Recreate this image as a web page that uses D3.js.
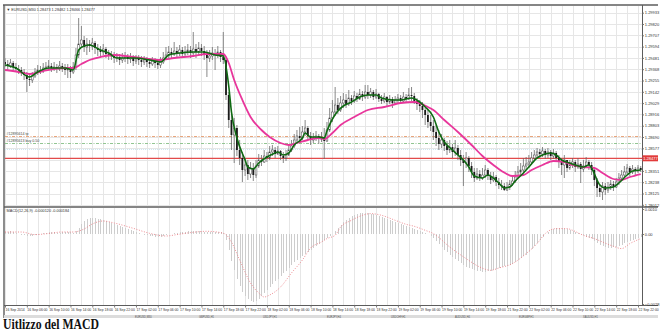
<!DOCTYPE html>
<html>
<head>
<meta charset="utf-8">
<script src="https://d3js.org/d3.v7.min.js"></script>
<style>
body { margin: 0; background: #fff; }
svg text { font-family: "Liberation Sans", Arial, sans-serif; }
</style>
</head>
<body>
<svg id="chart" width="660" height="331"></svg>
<script>
// EURUSD M30 bars, 16 Sep 02:00 .. 22 Sep 22:30
let firstOpen = 1.2944;
let closes = [
1.2942,1.2940,1.2943,1.2939,1.2937,1.2936,1.2934,1.2931,1.2927,1.2926,
1.2930,1.2934,1.2936,1.2935,1.2938,1.2939,1.2940,1.2938,1.2939,1.2937,
1.2940,1.2938,1.2936,1.2937,1.2934,1.2939,1.2951,1.2962,1.2966,1.2959,
1.2962,1.2960,1.2963,1.2958,1.2956,1.2954,1.2957,1.2952,1.2950,1.2951,
1.2948,1.2949,1.2946,1.2948,1.2949,1.2947,1.2948,1.2945,1.2947,1.2946,
1.2944,1.2946,1.2944,1.2942,1.2945,1.2943,1.2941,1.2944,1.2948,1.2951,
1.2954,1.2952,1.2955,1.2953,1.2956,1.2952,1.2954,1.2956,1.2953,1.2957,
1.2954,1.2958,1.2955,1.2952,1.2948,1.2950,1.2953,1.2951,1.2954,1.2949,
1.2946,1.2911,1.2886,1.2871,1.2878,1.2856,1.2848,1.2836,1.2841,1.2832,
1.2838,1.2831,1.2840,1.2846,1.2844,1.2850,1.2848,1.2854,1.2856,1.2852,
1.2855,1.2850,1.2848,1.2851,1.2856,1.2860,1.2866,1.2870,1.2868,1.2874,
1.2878,1.2870,1.2866,1.2868,1.2870,1.2867,1.2869,1.2865,1.2876,1.2888,
1.2894,1.2901,1.2896,1.2903,1.2906,1.2902,1.2908,1.2905,1.2910,1.2907,
1.2912,1.2909,1.2914,1.2911,1.2914,1.2909,1.2912,1.2907,1.2905,1.2909,
1.2904,1.2907,1.2903,1.2906,1.2908,1.2905,1.2909,1.2907,1.2911,1.2910,
1.2905,1.2902,1.2900,1.2896,1.2891,1.2884,1.2880,1.2874,1.2868,1.2862,
1.2866,1.2860,1.2856,1.2859,1.2854,1.2858,1.2851,1.2846,1.2843,1.2848,
1.2840,1.2834,1.2828,1.2832,1.2828,1.2831,1.2836,1.2830,1.2826,1.2829,
1.2824,1.2821,1.2820,1.2816,1.2819,1.2822,1.2825,1.2829,1.2834,1.2836,
1.2840,1.2842,1.2844,1.2848,1.2851,1.2854,1.2852,1.2855,1.2851,1.2854,
1.2850,1.2853,1.2848,1.2844,1.2841,1.2846,1.2838,1.2841,1.2844,1.2839,
1.2842,1.2837,1.2840,1.2844,1.2841,1.2836,1.2826,1.2818,1.2814,1.2820,
1.2816,1.2819,1.2822,1.2819,1.2824,1.2828,1.2831,1.2834,1.2838,1.2834,
1.2837,1.2835,1.2838,1.2836];
let highs = [
1.2948,1.2946,1.2947,1.2945,1.2943,1.2941,1.2939,1.2937,1.2934,1.2932,
1.2934,1.2938,1.2941,1.2940,1.2943,1.2944,1.2946,1.2943,1.2944,1.2942,
1.2945,1.2943,1.2942,1.2942,1.2940,1.2944,1.2958,1.2988,1.2980,1.2970,
1.2968,1.2966,1.2968,1.2965,1.2962,1.2960,1.2962,1.2959,1.2956,1.2955,
1.2954,1.2953,1.2952,1.2953,1.2954,1.2952,1.2953,1.2951,1.2951,1.2951,
1.2950,1.2950,1.2949,1.2948,1.2949,1.2948,1.2947,1.2949,1.2954,1.2959,
1.2960,1.2958,1.2964,1.2959,1.2961,1.2959,1.2960,1.2962,1.2960,1.2974,
1.2962,1.2964,1.2962,1.2960,1.2956,1.2956,1.2959,1.2957,1.2960,1.2956,
1.2974,1.2948,1.2914,1.2891,1.2888,1.2881,1.2866,1.2854,1.2848,1.2846,
1.2844,1.2843,1.2846,1.2852,1.2851,1.2856,1.2854,1.2860,1.2861,1.2859,
1.2860,1.2856,1.2854,1.2856,1.2861,1.2866,1.2872,1.2876,1.2879,1.2880,
1.2886,1.2880,1.2874,1.2873,1.2875,1.2872,1.2874,1.2878,1.2884,1.2898,
1.2906,1.2919,1.2908,1.2910,1.2913,1.2912,1.2916,1.2911,1.2915,1.2913,
1.2917,1.2915,1.2921,1.2921,1.2918,1.2916,1.2917,1.2913,1.2911,1.2913,
1.2910,1.2911,1.2909,1.2910,1.2912,1.2911,1.2914,1.2912,1.2918,1.2919,
1.2913,1.2908,1.2906,1.2904,1.2898,1.2896,1.2891,1.2886,1.2881,1.2876,
1.2872,1.2868,1.2865,1.2866,1.2862,1.2866,1.2861,1.2856,1.2851,1.2854,
1.2850,1.2844,1.2838,1.2838,1.2836,1.2838,1.2841,1.2838,1.2834,1.2834,
1.2831,1.2828,1.2826,1.2823,1.2824,1.2826,1.2830,1.2835,1.2840,1.2843,
1.2848,1.2849,1.2851,1.2854,1.2856,1.2858,1.2857,1.2859,1.2857,1.2858,
1.2856,1.2857,1.2855,1.2851,1.2848,1.2851,1.2846,1.2846,1.2848,1.2846,
1.2848,1.2844,1.2846,1.2849,1.2846,1.2844,1.2838,1.2828,1.2822,1.2824,
1.2823,1.2824,1.2826,1.2825,1.2828,1.2833,1.2836,1.2840,1.2842,1.2840,
1.2841,1.2839,1.2841,1.2840];
let lows = [
1.2939,1.2936,1.2938,1.2936,1.2934,1.2932,1.2930,1.2926,1.2914,1.2920,
1.2923,1.2928,1.2931,1.2932,1.2933,1.2935,1.2936,1.2934,1.2935,1.2933,
1.2935,1.2934,1.2931,1.2928,1.2928,1.2932,1.2936,1.2948,1.2958,1.2954,
1.2951,1.2954,1.2956,1.2952,1.2950,1.2949,1.2951,1.2948,1.2946,1.2946,
1.2943,1.2944,1.2941,1.2943,1.2944,1.2942,1.2943,1.2940,1.2942,1.2941,
1.2939,1.2941,1.2939,1.2938,1.2940,1.2938,1.2937,1.2938,1.2942,1.2946,
1.2948,1.2948,1.2950,1.2949,1.2950,1.2948,1.2949,1.2951,1.2948,1.2949,
1.2948,1.2951,1.2950,1.2946,1.2929,1.2944,1.2946,1.2936,1.2948,1.2944,
1.2942,1.2906,1.2878,1.2856,1.2843,1.2850,1.2841,1.2824,1.2830,1.2826,
1.2828,1.2825,1.2828,1.2838,1.2840,1.2843,1.2844,1.2846,1.2850,1.2848,
1.2851,1.2846,1.2843,1.2845,1.2850,1.2854,1.2858,1.2864,1.2863,1.2866,
1.2870,1.2866,1.2861,1.2863,1.2865,1.2862,1.2864,1.2847,1.2864,1.2874,
1.2884,1.2890,1.2892,1.2894,1.2898,1.2898,1.2900,1.2901,1.2903,1.2904,
1.2906,1.2905,1.2907,1.2907,1.2908,1.2906,1.2907,1.2904,1.2902,1.2903,
1.2900,1.2902,1.2898,1.2901,1.2903,1.2902,1.2904,1.2903,1.2906,1.2905,
1.2902,1.2896,1.2894,1.2888,1.2881,1.2878,1.2875,1.2866,1.2860,1.2856,
1.2858,1.2855,1.2851,1.2853,1.2848,1.2850,1.2846,1.2840,1.2820,1.2838,
1.2834,1.2828,1.2824,1.2826,1.2825,1.2826,1.2828,1.2826,1.2822,1.2824,
1.2820,1.2817,1.2816,1.2815,1.2815,1.2816,1.2820,1.2823,1.2828,1.2831,
1.2834,1.2836,1.2838,1.2841,1.2846,1.2848,1.2848,1.2849,1.2847,1.2848,
1.2846,1.2847,1.2844,1.2838,1.2831,1.2828,1.2834,1.2836,1.2838,1.2834,
1.2837,1.2823,1.2834,1.2838,1.2836,1.2831,1.2820,1.2809,1.2809,1.2806,
1.2811,1.2813,1.2816,1.2815,1.2818,1.2821,1.2826,1.2829,1.2832,1.2830,
1.2832,1.2831,1.2833,1.2834];

// moving averages read at chosen bars
let fastIdx = [0,4,9,12,16,22,25,27,29,31,35,38,41,47,53,57,60,64,69,73,77,80,82,83,85,88,89,91,93,96,99,100,102,104,106,109,110,112,115,117,118,120,122,124,127,130,133,136,138,142,145,149,152,154,157,159,161,164,166,168,170,172,175,177,179,181,183,185,187,190,192,195,197,200,202,204,207,209,212,214,215,217,218,220,223,225,228,230,233];
let fastMa = [1.2941,1.2938,1.2929,1.2934,1.2938,1.2938,1.2936,1.2956,1.2960,1.2961,1.2956,1.2953,1.2948,1.2948,1.2946,1.2944,1.2951,1.2953,1.2954,1.2954,1.2951,1.2950,1.2920,1.2894,1.2868,1.2846,1.2839,1.2837,1.2843,1.2849,1.2853,1.2854,1.2851,1.2853,1.2861,1.2868,1.2873,1.2869,1.2869,1.2868,1.2875,1.2887,1.2895,1.2900,1.2904,1.2909,1.2911,1.2911,1.2908,1.2906,1.2906,1.2908,1.2904,1.2899,1.2889,1.2874,1.2864,1.2856,1.2851,1.2846,1.2839,1.2830,1.2828,1.2831,1.2828,1.2823,1.2818,1.2819,1.2825,1.2833,1.2839,1.2848,1.2851,1.2853,1.2851,1.2846,1.2843,1.2841,1.2839,1.2841,1.2838,1.2826,1.2821,1.2818,1.2819,1.2823,1.2831,1.2835,1.2836];
let slowIdx = [0,5,9,14,22,25,28,31,35,40,47,57,62,69,74,80,81,82,84,87,90,94,97,101,104,107,111,115,117,120,123,128,133,139,145,150,155,157,161,166,171,175,179,182,186,190,193,197,201,205,208,212,216,219,223,226,229,233];
let slowMa = [1.2936,1.2934,1.2932,1.2935,1.2938,1.2938,1.2942,1.2946,1.2949,1.2951,1.2949,1.2946,1.2948,1.2950,1.2952,1.2952,1.2949,1.2943,1.2926,1.2906,1.2889,1.2876,1.2869,1.2863,1.2861,1.2863,1.2866,1.2868,1.2867,1.2873,1.2881,1.2889,1.2896,1.2899,1.2903,1.2904,1.2899,1.2896,1.2886,1.2874,1.2861,1.2850,1.2841,1.2835,1.2830,1.2831,1.2836,1.2841,1.2845,1.2844,1.2841,1.2839,1.2838,1.2833,1.2827,1.2826,1.2829,1.2832];

// MACD(12,26,9): main per bar, signal read at chosen bars
let macdMain = [
0.00008,0.00008,0.00012,0.00008,0.00004,0,-0.00004,-0.00004,-0.00008,-0.00008,
-0.00008,-0.00004,-0.00004,0,0.00004,0.00004,0.00008,0.00008,0.00008,0.00004,0.00004,0.00008,0.00008,
0.00008,0.00008,0.00004,0.00012,
0.00024,0.0004,0.00052,0.0006,0.00064,0.00064,0.00064,0.0006,0.0006,0.00056,0.00052,0.00048,0.00044,0.0004,
0.00036,0.00032,0.00028,0.00024,0.0002,0.00016,0.00012,0.00008,0.00004,0,-0.00004,-0.00004,-0.00008,-0.00008,-0.00012,-0.00012,
-0.00012,-0.00008,-0.00004,0,0,0.00004,0.00004,0.00008,0.00008,0.00008,0.00012,0.00012,0.00012,0.00012,0.00012,0.00012,0.00008,0.00008,0.00008,0.00008,0.00008,0.00008,0.00008,
0.00004,
-0.00024,-0.00064,-0.00108,-0.00144,-0.0018,-0.00208,-0.00232,-0.00248,-0.0026,-0.00268,-0.00272,
-0.00268,-0.0026,-0.00248,-0.00236,-0.00224,-0.00212,-0.002,-0.00188,-0.0018,-0.00168,-0.00156,-0.00148,-0.00136,-0.00124,-0.00112,-0.00104,
-0.00096,-0.00088,-0.0008,-0.00072,-0.00064,-0.00056,-0.00048,-0.0004,-0.00032,-0.00024,-0.00016,-0.00008,0,
0.00012,0.00024,0.00036,0.00048,0.00056,0.00064,0.00072,0.00076,0.0008,0.00084,0.00084,0.00084,0.00084,0.0008,0.0008,0.00076,0.00072,0.00068,0.00064,0.0006,0.00056,0.00052,0.00048,0.00044,0.0004,0.00036,0.00032,0.00028,0.00024,0.0002,0.00016,0.00012,0.00008,0.00004,0,-0.00008,
-0.00016,-0.00028,-0.0004,-0.00052,-0.00064,-0.00072,-0.00084,-0.00092,-0.001,-0.00108,-0.00116,-0.00124,-0.00132,-0.00136,-0.0014,-0.00144,-0.00148,-0.00148,-0.00152,-0.00152,
-0.00148,-0.00148,-0.00144,-0.0014,-0.00136,-0.00132,-0.00128,-0.00128,-0.00124,-0.0012,-0.00112,-0.00104,-0.00096,-0.00088,-0.00084,-0.00072,-0.0006,-0.00048,-0.00036,-0.00024,
-0.00012,0,0.00008,0.00016,0.0002,0.00024,0.00024,0.00024,0.0002,0.0002,0.00016,0.00012,0.00008,0.00004,0,-0.00004,-0.00012,-0.00016,-0.0002,-0.00028,
-0.00036,-0.00044,-0.00048,-0.00052,-0.00056,-0.00056,-0.00052,-0.00052,-0.00048,-0.00044,-0.00036,-0.00032,-0.00028,-0.00024,-0.0002,-0.00016,-0.00012];
let signalIdx = [0,6,11,16,21,25,29,32,36,40,47,53,59,63,68,74,79,81,83,86,90,93,95,97,101,105,109,112,116,118,121,123,127,131,134,138,143,147,150,154,157,163,169,174,178,181,186,191,195,198,202,206,208,212,216,219,223,226,229,233];
let signalVal = [0.00008,0.00008,-0.000024,0.00002,0.00008,0.00008,0.0002,0.0004,0.00052,0.00044,0.000228,0.000028,-0.00008,-0.000024,0.000056,0.000108,0.000056,-0.000024,-0.00032,-0.00104,-0.00196,-0.00236,-0.00252,-0.00244,-0.00212,-0.00156,-0.00104,-0.00056,-0.00032,-0.000184,-0.000052,0.00028,0.000548,0.000748,0.000816,0.000748,0.000548,0.000388,0.000308,0.000148,0.000016,-0.00052,-0.000984,-0.00132,-0.001452,-0.00136,-0.001184,-0.000784,-0.000384,0.000016,0.000216,0.000216,0.000148,-0.000052,-0.000184,-0.00032,-0.000492,-0.000584,-0.000384,-0.000184];

let priceTicks = [1.29933,1.29820,1.29707,1.29594,1.29481,1.29368,1.29255,1.29142,1.29029,1.28916,1.28803,1.28690,1.28577,1.28464,1.28351,1.28238,1.28125,1.28012];
let macdTicks = [0.0010, 0, -0.0028];
let timeLabels = ["16 Sep 2014","16 Sep 06:00","16 Sep 10:00","16 Sep 14:00","16 Sep 18:00","16 Sep 22:00","17 Sep 02:00","17 Sep 06:00","17 Sep 10:00","17 Sep 14:00","17 Sep 18:00","17 Sep 22:00","18 Sep 02:00","18 Sep 06:00","18 Sep 10:00","18 Sep 14:00","18 Sep 18:00","18 Sep 22:00","19 Sep 02:00","19 Sep 06:00","19 Sep 10:00","19 Sep 14:00","19 Sep 18:00","21 Sep 22:00","22 Sep 02:00","22 Sep 06:00","22 Sep 10:00","22 Sep 14:00","22 Sep 18:00","22 Sep 22:00"];

let bidPrice = 1.28477;
let orderLevels = [1.28700, 1.28633, 1.28573];
let orderLabels = ["#12895614 tp", "#12895613 buy 0.50"];
let tabNames = ["EURUSD,M30","GBPUSD,H1","USDJPY,H1","EURJPY,H4","USDCHF,H1","AUDUSD,H4","EURGBP,H1","XAUUSD,H1"];

let svg = d3.select("#chart");
let plotLeft = 5, plotRight = 642;
let mainTop = 6, mainBottom = 206, macdTop = 208, macdBottom = 304;
let axisFont = 4;

let xScale = d3.scaleLinear().domain([0, 232]).range([5, 638]);
let priceScale = d3.scaleLinear().domain([1.2800, 1.3000]).range([mainBottom, mainTop]);
let macdScale = d3.scaleLinear().domain([-0.0028, 0.00104]).range([macdBottom, macdTop]);

let defs = svg.append("defs");
defs.append("clipPath").attr("id", "clipMain").append("rect")
    .attr("x", plotLeft).attr("y", mainTop).attr("width", plotRight - plotLeft).attr("height", mainBottom - mainTop);
defs.append("clipPath").attr("id", "clipMacd").append("rect")
    .attr("x", plotLeft).attr("y", macdTop).attr("width", plotRight - plotLeft).attr("height", macdBottom - macdTop + 1);

// grid
let barTicks = d3.range(0, 233, 4);
let vGridMain = d3.axisBottom(xScale).tickValues(barTicks).tickSize(-(mainBottom - mainTop)).tickFormat("");
let vGridMacd = d3.axisBottom(xScale).tickValues(barTicks).tickSize(-(macdBottom - macdTop + 1)).tickFormat("");
let hGrid = d3.axisLeft(priceScale).tickValues(priceTicks).tickSize(-(plotRight - plotLeft)).tickFormat("");
svg.append("g").attr("class", "grid").attr("transform", "translate(0," + mainBottom + ")").call(vGridMain);
svg.append("g").attr("class", "grid").attr("transform", "translate(0," + (macdBottom + 1) + ")").call(vGridMacd);
svg.append("g").attr("class", "grid").attr("transform", "translate(" + plotLeft + ",0)").call(hGrid);
svg.selectAll(".grid path.domain").remove();
svg.selectAll(".grid line").attr("stroke", "#e6e6e6").attr("stroke-width", 1).attr("shape-rendering", "crispEdges");

let main = svg.append("g").attr("clip-path", "url(#clipMain)");

// order lines
let orderColors = ["#e8a57c", "#92c592", "#cfe6f2"];
orderLevels.forEach(function (lv, k) {
    main.append("line")
        .attr("x1", plotLeft).attr("x2", plotRight)
        .attr("y1", Math.round(priceScale(lv)) + 0.5).attr("y2", Math.round(priceScale(lv)) + 0.5)
        .attr("stroke", orderColors[k]).attr("stroke-width", 1)
        .attr("stroke-dasharray", k < 2 ? "3,1.5,1,1.5" : "1,1");
});
orderLabels.forEach(function (t, k) {
    svg.append("text").attr("x", 6.5).attr("y", priceScale(orderLevels[k]) - 0.8)
        .style("font-size", 3.6).attr("fill", "#444").text(t);
});
main.append("line")
    .attr("x1", plotLeft).attr("x2", plotRight)
    .attr("y1", priceScale(bidPrice)).attr("y2", priceScale(bidPrice))
    .attr("stroke", "#e24a4a").attr("stroke-width", 1.2);

// candles
let bars = closes.map(function (c, i) {
    return { i: i, o: i === 0 ? firstOpen : closes[i - 1], c: c, h: highs[i], l: lows[i] };
});
main.selectAll("line.wick").data(bars).enter().append("line").attr("class", "wick")
    .attr("x1", d => xScale(d.i)).attr("x2", d => xScale(d.i))
    .attr("y1", d => priceScale(Math.max(d.h, d.o, d.c)))
    .attr("y2", d => priceScale(Math.min(d.l, d.o, d.c)))
    .attr("stroke", "#6a6a6a").attr("stroke-width", 0.8);
main.selectAll("rect.body").data(bars).enter().append("rect").attr("class", "body")
    .attr("x", d => xScale(d.i) - 0.9).attr("width", 1.8)
    .attr("y", d => priceScale(Math.max(d.o, d.c)))
    .attr("height", d => Math.max(0.6, Math.abs(priceScale(d.o) - priceScale(d.c))))
    .attr("fill", d => d.c < d.o ? "#1a1a1a" : "#fff")
    .attr("stroke", d => d.c < d.o ? "none" : "#444").attr("stroke-width", 0.5);

// moving averages
let maLine = d3.line().x(d => xScale(d[0])).y(d => priceScale(d[1])).curve(d3.curveMonotoneX);
main.append("path").datum(d3.zip(slowIdx, slowMa)).attr("d", maLine)
    .attr("fill", "none").attr("stroke", "#e8369b").attr("stroke-width", 1.8);
main.append("path").datum(d3.zip(fastIdx, fastMa)).attr("d", maLine)
    .attr("fill", "none").attr("stroke", "#0f6a12").attr("stroke-width", 1.6);

// MACD panel
let macdG = svg.append("g").attr("clip-path", "url(#clipMacd)");
macdG.selectAll("line.hist").data(macdMain).enter().append("line").attr("class", "hist")
    .attr("x1", (d, i) => Math.round(xScale(i)) + 0.5).attr("x2", (d, i) => Math.round(xScale(i)) + 0.5)
    .attr("y1", macdScale(0)).attr("y2", d => macdScale(d))
    .attr("stroke", "#cdcdcd").attr("stroke-width", 1);
let sigLine = d3.line().x(d => xScale(d[0])).y(d => macdScale(d[1])).curve(d3.curveMonotoneX);
macdG.append("path").datum(d3.zip(signalIdx, signalVal)).attr("d", sigLine)
    .attr("fill", "none").attr("stroke", "#ec7f86").attr("stroke-width", 0.9)
    .attr("stroke-dasharray", "1,1.6");

// frame
let frame = [
    [3, 5, 658, 5, 1.6],
    [4, 5, 4, 318, 1.4],
    [642.5, 5, 642.5, 306, 1],
    [4, 207, 658, 207, 1.6],
    [4, 305.5, 658, 305.5, 1]
];
frame.forEach(function (f) {
    svg.append("line").attr("x1", f[0]).attr("y1", f[1]).attr("x2", f[2]).attr("y2", f[3])
        .attr("stroke", "#5c5c5c").attr("stroke-width", f[4]);
});

// price axis (the tick under the bid box is covered, as in the terminal)
let priceFmt = d3.format(".5f");
let priceAxis = d3.axisRight(priceScale).tickValues(priceTicks).tickSize(1.5).tickPadding(0.8)
    .tickFormat(d => Math.abs(priceScale(d) - priceScale(bidPrice)) < 4 ? "" : priceFmt(d));
let pa = svg.append("g").attr("transform", "translate(642.5,0)").call(priceAxis);
let macdAxis = d3.axisRight(macdScale).tickValues(macdTicks).tickSize(1.5).tickPadding(0.8)
    .tickFormat(d => d === 0 ? "0.00" : d3.format(".4f")(d));
let ma = svg.append("g").attr("transform", "translate(642.5,0)").call(macdAxis);
[pa, ma].forEach(function (g) {
    g.select("path.domain").remove();
    g.selectAll("line").attr("stroke", "#777");
    g.selectAll("text").style("font-size", axisFont).attr("fill", "#333")
        .attr("font-family", "Liberation Sans");
});

// bid label
svg.append("rect").attr("x", 642.5).attr("y", priceScale(bidPrice) - 3).attr("width", 15.5).attr("height", 6)
    .attr("fill", "#e23a3a");
svg.append("text").attr("x", 643.2).attr("y", priceScale(bidPrice) + 1.5)
    .style("font-size", axisFont).attr("fill", "#fff").text(priceFmt(bidPrice));

// time axis
let timeAxis = d3.axisBottom(xScale).tickValues(timeLabels.map((t, k) => k * 8))
    .tickSize(2).tickPadding(1.2).tickFormat((d, k) => timeLabels[k]);
let ta = svg.append("g").attr("transform", "translate(0,305.5)").call(timeAxis);
ta.select("path.domain").remove();
ta.selectAll("line").attr("stroke", "#777");
ta.selectAll("text").style("font-size", 3.4).attr("fill", "#333").attr("text-anchor", "start")
    .attr("font-family", "Liberation Sans");

// tab strip (kept clear of the caption below it)
svg.append("rect").attr("x", 4).attr("y", 315).attr("width", 654).attr("height", 3).attr("fill", "#dcdcdc");
tabNames.forEach(function (t, k) {
    svg.append("text").attr("x", 135 + k * 64).attr("y", 317.7).style("font-size", 2.6)
        .attr("fill", "#555").text(t);
});

// headers
svg.append("text").attr("x", 6.5).attr("y", 10.5).style("font-size", 3.8).attr("fill", "#333")
    .text("\u25BC EURUSD,M30  1.28473 1.28482 1.28466 1.28477");
svg.append("text").attr("x", 6.5).attr("y", 211.8).style("font-size", 3.8).attr("fill", "#333")
    .text("MACD(12,26,9) -0.000120 -0.000184");

// caption
svg.append("text").attr("x", 3).attr("y", 328.5)
    .style("font-family", "'Liberation Serif', serif").style("font-weight", "bold").style("font-size", "14.5px")
    .attr("fill", "#111").attr("textLength", 96).attr("lengthAdjust", "spacingAndGlyphs")
    .text("Uitlizzo del MACD");
</script>
</body>
</html>
